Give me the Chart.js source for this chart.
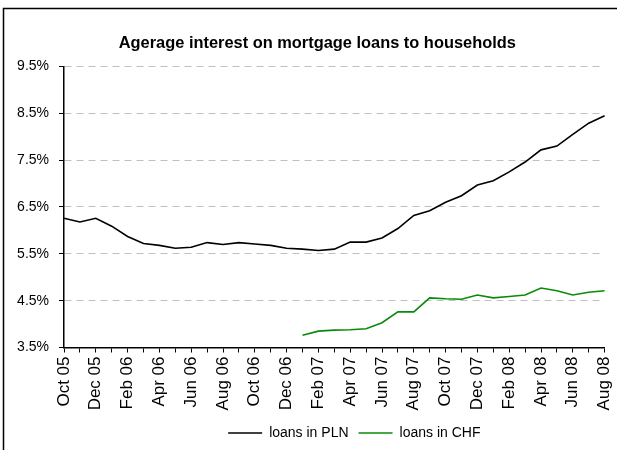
<!DOCTYPE html>
<html>
<head>
<meta charset="utf-8">
<title>Mortgage loan rates</title>
<script src="https://cdn.jsdelivr.net/npm/chart.js@4.4.0/dist/chart.umd.min.js"></script>
<style>
  html, body { margin: 0; padding: 0; background: #fff; }
  #wrap { width: 617px; height: 450px; }
</style>
</head>
<body>
<div id="wrap"><canvas id="rates" width="617" height="450"></canvas></div>
<script>
// monthly averages, Oct 2005 - Aug 2008 (in %)
const months = [
  'Oct 05', 'Nov 05', 'Dec 05',
  'Jan 06', 'Feb 06', 'Mar 06', 'Apr 06', 'May 06', 'Jun 06',
  'Jul 06', 'Aug 06', 'Sep 06', 'Oct 06', 'Nov 06', 'Dec 06',
  'Jan 07', 'Feb 07', 'Mar 07', 'Apr 07', 'May 07', 'Jun 07',
  'Jul 07', 'Aug 07', 'Sep 07', 'Oct 07', 'Nov 07', 'Dec 07',
  'Jan 08', 'Feb 08', 'Mar 08', 'Apr 08', 'May 08', 'Jun 08',
  'Jul 08', 'Aug 08'
];

const plnRates = [
  6.26, 6.18, 6.26,
  6.09, 5.87, 5.72, 5.68, 5.62, 5.64,
  5.74, 5.70, 5.74, 5.71, 5.68, 5.62,
  5.60, 5.57, 5.60, 5.75, 5.75, 5.84,
  6.04, 6.32, 6.42, 6.60, 6.74, 6.97,
  7.06, 7.25, 7.46, 7.72, 7.80, 8.05,
  8.29, 8.45
];

// CHF series only starts in Jan 07
const chfRates = [
  null, null, null,
  null, null, null, null, null, null,
  null, null, null, null, null, null,
  3.76, 3.85, 3.87, 3.88, 3.90, 4.03,
  4.26, 4.26, 4.56, 4.54, 4.53, 4.62,
  4.56, 4.59, 4.62, 4.77, 4.71, 4.62,
  4.68, 4.71
];

const seriesNames = ['loans in PLN', 'loans in CHF'];
const yMin = 3.5;
const yMax = 9.5;
const yStep = 1;

Chart.defaults.font.family = 'Arial, "Liberation Sans", sans-serif';
Chart.defaults.color = '#000';

// thin outline along the top and left edge
const framePlugin = {
  id: 'frame',
  beforeDraw(chart) {
    const ctx = chart.ctx;
    ctx.save();
    ctx.strokeStyle = '#000';
    ctx.lineWidth = 1.5;
    ctx.beginPath();
    ctx.moveTo(3.5, chart.height);
    ctx.lineTo(3.5, 8.5);
    ctx.lineTo(chart.width, 8.5);
    ctx.stroke();
    ctx.restore();
  }
};

// title and legend sit a bit right of the canvas centre
const boxShift = {
  id: 'boxShift',
  afterLayout(chart) {
    chart.legend.left += 52;
    chart.legend.right += 52;
    chart.titleBlock.left += 15;
    chart.titleBlock.right += 15;
  }
};

var data = {
  labels: months,
  datasets: [
    {
      label: seriesNames[0],
      data: plnRates,
      borderColor: '#000000',
      backgroundColor: '#000000',
      borderWidth: 1.6,
      pointRadius: 0,
      tension: 0,
    },
    {
      label: seriesNames[1],
      data: chfRates,
      borderColor: '#0a8a0a',
      backgroundColor: '#0a8a0a',
      borderWidth: 1.6,
      pointRadius: 0,
      tension: 0,
      spanGaps: false,
    },
  ],
};

var options = {
  responsive: false,
  animation: false,
  layout: {
    padding: { left: 0, right: 12.4, top: 0, bottom: 0 }
  },
  scales: {
    x: {
      type: 'category',
      offset: false,
      grid: {
        drawOnChartArea: false,
        drawTicks: true,
        tickLength: 5,
        tickColor: '#000',
        color: '#000',
      },
      border: { color: '#000', width: 1.5 },
      ticks: {
        autoSkip: false,
        maxRotation: 90,
        minRotation: 90,
        padding: 4,
        font: { size: 17 },
        callback: (value, index) => index % 2 === 0 ? months[index] : '',
      },
      afterFit: scale => {
        scale.height = 68.5;
        scale.paddingLeft = 0;
        scale.paddingRight = 0;
      },
    },
    y: {
      min: yMin,
      max: yMax,
      grid: {
        color: '#c0c0c0',
        tickColor: '#000',
        tickLength: 5,
        lineWidth: 1,
      },
      border: { color: '#000', width: 1.5, dash: [7, 5] },
      ticks: {
        stepSize: yStep,
        padding: 10,
        font: { size: 14 },
        callback: value => value.toFixed(1) + '%',
      },
      afterFit: scale => { scale.width = 64; },
    },
  },
  plugins: {
    title: {
      display: true,
      text: 'Agerage interest on mortgage loans to households',
      font: { size: 16.4, weight: 'bold' },
      color: '#000',
      padding: { top: 33.2, bottom: 13.6 },
    },
    legend: {
      position: 'bottom',
      labels: {
        usePointStyle: true,
        pointStyle: 'line',
        pointStyleWidth: 34,
        padding: 10,
        font: { size: 14 },
        color: '#000',
      },
    },
    tooltip: { enabled: false },
  },
};

new Chart(document.getElementById('rates').getContext('2d'), {
  type: 'line',
  data: data,
  options: options,
  plugins: [framePlugin, boxShift],
});
</script>
</body>
</html>
